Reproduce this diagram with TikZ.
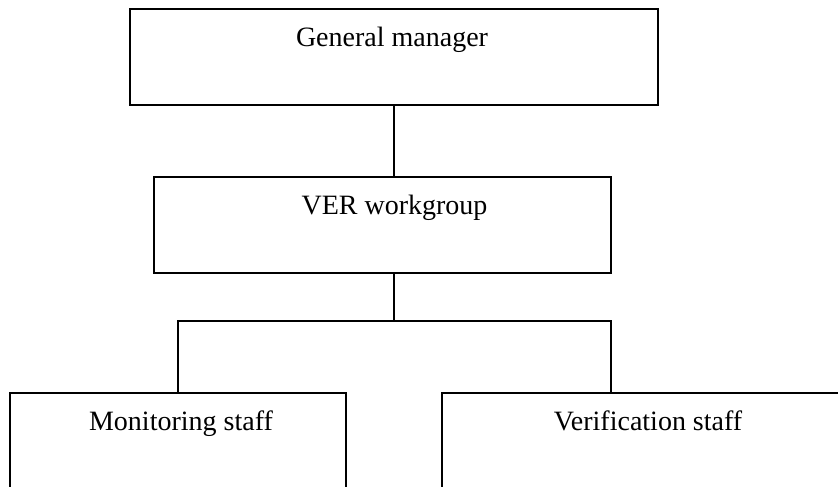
\documentclass[tikz,border=0pt]{standalone}
\usepackage{fontspec}
\setmainfont{Liberation Serif}
\usetikzlibrary{positioning,calc}

\begin{document}
\begin{tikzpicture}[
    x=1pt, y=-1pt,
    box/.style={rectangle, draw, line width=1.3pt, outer sep=0pt, minimum height=96pt},
    title/.style={font=\fontsize{28}{32}\selectfont, inner sep=0pt, anchor=north, yshift=-18pt},
    link/.style={line width=1.3pt}
]
\useasboundingbox (0,0) rectangle (838,487);
\clip (0,0) rectangle (838,487);

% Top level
\node[box, minimum width=528pt, label={[title, name=gmtext, xshift=-2pt]north:General manager}] (gm) at (394,57) {};

% Workgroup
\node[box, minimum width=457pt, label={[title, name=vertext, xshift=12pt]north:VER workgroup}] (ver) at (382.5,225) {};

% Staff (cut by the page edge)
\node[box, minimum width=336pt, minimum height=110pt, label={[title, name=montext, xshift=3pt]north:Monitoring staff}] (mon) at (178,448) {};
\node[box, minimum width=408pt, minimum height=110pt, label={[title, name=vstext, xshift=2pt]north:Verification staff}] (vs) at (646,448) {};

\coordinate (fork) at (394,321);

\draw[link] (gm.south) -- (gm.south |- ver.north);
\draw[link] (gm.south |- ver.south) -- (fork);
\draw[link] (mon.north) |- (ver.east |- fork) -- (ver.east |- vs.north);

\end{tikzpicture}
\end{document}
